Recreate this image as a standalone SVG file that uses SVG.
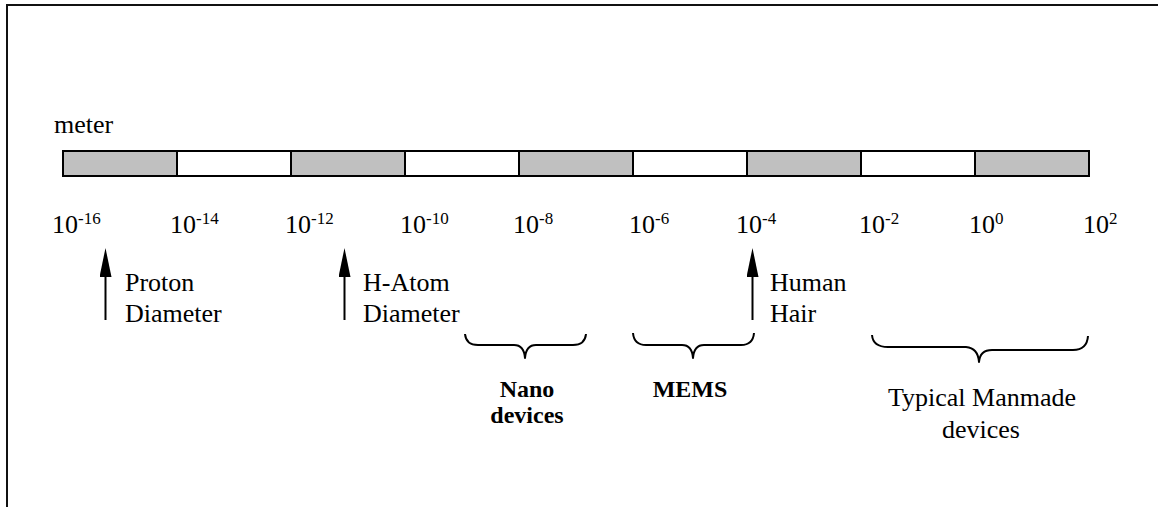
<svg xmlns="http://www.w3.org/2000/svg" width="1158" height="507" viewBox="0 0 1158 507" font-family="Liberation Serif, Tinos, DejaVu Serif, serif">
  <style>
    text { font-family: 'Liberation Serif', Tinos, 'DejaVu Serif', serif; font-size: 26px; fill: #000; }
    .sup { font-size: 17px; }
    .bold { font-weight: bold; font-size: 24px; }
    .mid { text-anchor: middle; }
    .seg { stroke: #000; stroke-width: 2; }
    .dark { fill: #c0c0c0; }
    .light { fill: #fff; }
    .frame { fill: none; stroke: #111; stroke-width: 2; }
    .conn { fill: none; stroke: #000; stroke-width: 2; }
    .brace { fill: none; stroke: #000; stroke-width: 2; stroke-linejoin: round; }
  </style>
  <defs>
    <marker id="arrowhead" markerUnits="userSpaceOnUse" viewBox="0 0 29 12" refX="0" refY="6" markerWidth="29" markerHeight="12" orient="auto">
      <path d="M0,0 L29,6 L0,12 z" fill="#000"/>
    </marker>
  </defs>

  <rect width="1158" height="507" fill="#fff"/>
  <!-- outer frame (only top and left edges are inside the canvas) -->
  <path class="frame" d="M7,507 V5 H1158"/>

  <g id="scale">
    <text x="54" y="133">meter</text>
    <rect class="seg dark"  x="63"  y="151" width="114" height="25"/>
    <rect class="seg light" x="177" y="151" width="114" height="25"/>
    <rect class="seg dark"  x="291" y="151" width="114" height="25"/>
    <rect class="seg light" x="405" y="151" width="114" height="25"/>
    <rect class="seg dark"  x="519" y="151" width="114" height="25"/>
    <rect class="seg light" x="633" y="151" width="114" height="25"/>
    <rect class="seg dark"  x="747" y="151" width="114" height="25"/>
    <rect class="seg light" x="861" y="151" width="114" height="25"/>
    <rect class="seg dark"  x="975" y="151" width="114" height="25"/>
  </g>

  <g id="tick-labels">
    <text x="52" y="233">10<tspan class="sup" dy="-9">-16</tspan></text>
    <text x="170" y="233">10<tspan class="sup" dy="-9">-14</tspan></text>
    <text x="285" y="233">10<tspan class="sup" dy="-9">-12</tspan></text>
    <text x="400" y="233">10<tspan class="sup" dy="-9">-10</tspan></text>
    <text x="513" y="233">10<tspan class="sup" dy="-9">-8</tspan></text>
    <text x="629" y="233">10<tspan class="sup" dy="-9">-6</tspan></text>
    <text x="736" y="233">10<tspan class="sup" dy="-9">-4</tspan></text>
    <text x="859" y="233">10<tspan class="sup" dy="-9">-2</tspan></text>
    <text x="969" y="233">10<tspan class="sup" dy="-9">0</tspan></text>
    <text x="1083" y="233">10<tspan class="sup" dy="-9">2</tspan></text>
  </g>

  <g id="connectors">
    <line class="conn" x1="105.5" y1="320" x2="105.5" y2="277" marker-end="url(#arrowhead)"/>
    <line class="conn" x1="344.5" y1="320" x2="344.5" y2="277" marker-end="url(#arrowhead)"/>
    <line class="conn" x1="752.5" y1="320" x2="752.5" y2="277" marker-end="url(#arrowhead)"/>
    <path class="brace" d="M465,334 Q466,345 478,345 H514 Q524,345 525,358 Q526,345 536,345 H573 Q585,345 586,334"/>
    <path class="brace" d="M633,333 Q634,345 646,345 H682 Q692,345 693,358 Q694,345 704,345 H741 Q753,345 754,333"/>
    <path class="brace" d="M872,335 Q873,347 888,347 H966 Q978,348 979,362 Q980,350 992,350 H1073 Q1087,350 1088,336"/>
  </g>

  <g id="proton">
    <text x="125" y="291">Proton</text>
    <text x="125" y="322">Diameter</text>
  </g>
  <g id="h-atom">
    <text x="363" y="291">H-Atom</text>
    <text x="363" y="322">Diameter</text>
  </g>
  <g id="human-hair">
    <text x="770" y="291">Human</text>
    <text x="770" y="322">Hair</text>
  </g>
  <g id="nano-devices">
    <text class="bold mid" x="527" y="397">Nano</text>
    <text class="bold mid" x="527" y="423">devices</text>
  </g>
  <g id="mems">
    <text class="bold mid" x="690" y="397">MEMS</text>
  </g>
  <g id="manmade-devices">
    <text class="mid" x="982" y="406">Typical Manmade</text>
    <text class="mid" x="981" y="438">devices</text>
  </g>
</svg>
